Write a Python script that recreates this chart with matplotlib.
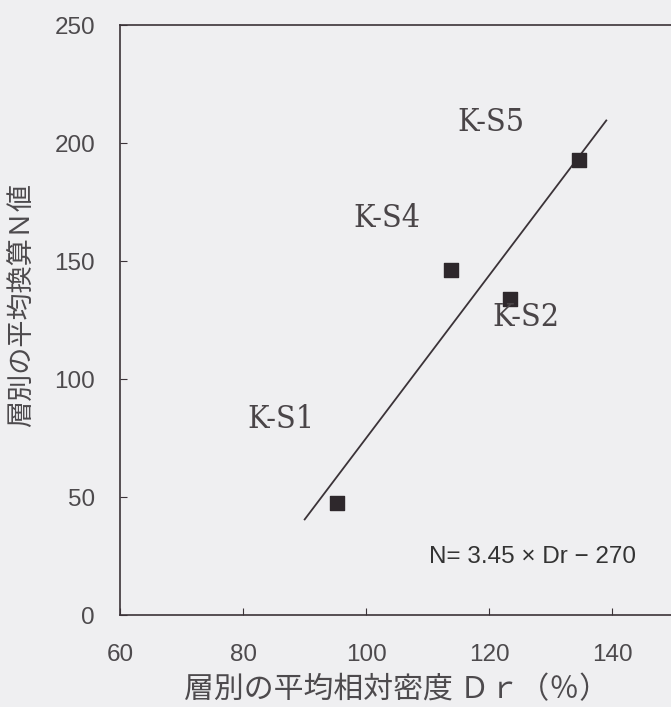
import numpy as np
import matplotlib
matplotlib.use('Agg')
import matplotlib.pyplot as plt

# layer averages: relative density Dr (%) vs converted N value
layers = ['K-S1', 'K-S4', 'K-S2', 'K-S5']
dr = [95.2, 113.7, 123.3, 134.5]
n_val = [47.5, 146, 134, 193]

# label anchor positions (data coords)
label_x = [86.2, 103.3, 125.9, 120.3]
label_y = [83, 168, 126, 208.5]

# regression N = 3.45 * Dr - 270
slope, intercept = 3.45, -270
fit_range = [90, 139]

xticks = [60, 80, 100, 120, 140]
yticks = [0, 50, 100, 150, 200, 250]

ink = '#3b3338'
txt = '#4d4a4d'
plt.rcParams['font.family'] = ['Liberation Sans', 'Noto Sans CJK JP', 'DejaVu Sans']

fig = plt.figure(figsize=(6.71, 7.07), dpi=100, facecolor='#efeff1')
ax = fig.add_axes([120 / 671, 92 / 707, 554 / 671, 590 / 707])
ax.set_facecolor('#efeff1')

xf = np.array(fit_range, dtype=float)
ax.plot(xf, slope * xf + intercept, color=ink, linewidth=1.3)
ax.scatter(dr, n_val, marker='s', s=100, color='#2e282c', zorder=3)

for name, x, y in zip(layers, label_x, label_y):
    ax.text(x, y, name, ha='center', va='center', fontsize=23, color='#4a4548',
            family='DejaVu Serif', fontstretch='condensed', fontweight='light')

ax.text(127, 24.7, 'N= 3.45 × Dr − 270', ha='center', va='center',
        fontsize=17.5, color='#333333')

ax.set_xlim(60, 150)
ax.set_ylim(0, 250)
ax.set_xticks(xticks)
ax.set_yticks(yticks)
ax.tick_params(direction='in', length=5, width=0.8, color=ink,
               labelsize=17.5, labelcolor=txt)
ax.tick_params(axis='y', pad=18)
ax.tick_params(axis='x', pad=21)
for side in ['left', 'bottom', 'top']:
    ax.spines[side].set_color(ink)
    ax.spines[side].set_linewidth(1.2)
ax.spines['right'].set_visible(False)

ax.set_xlabel('層別の平均相対密度 Ｄｒ（％）', fontsize=21.5, color=txt,
              family=['Noto Sans CJK JP'], labelpad=6)
ax.set_ylabel('層別の平均換算Ｎ値', fontsize=19.5, color=txt,
              family=['Noto Sans CJK JP'])
ax.yaxis.set_label_coords(-0.152, 0.525)

fig.savefig('out.png', dpi=100, facecolor=fig.get_facecolor())
